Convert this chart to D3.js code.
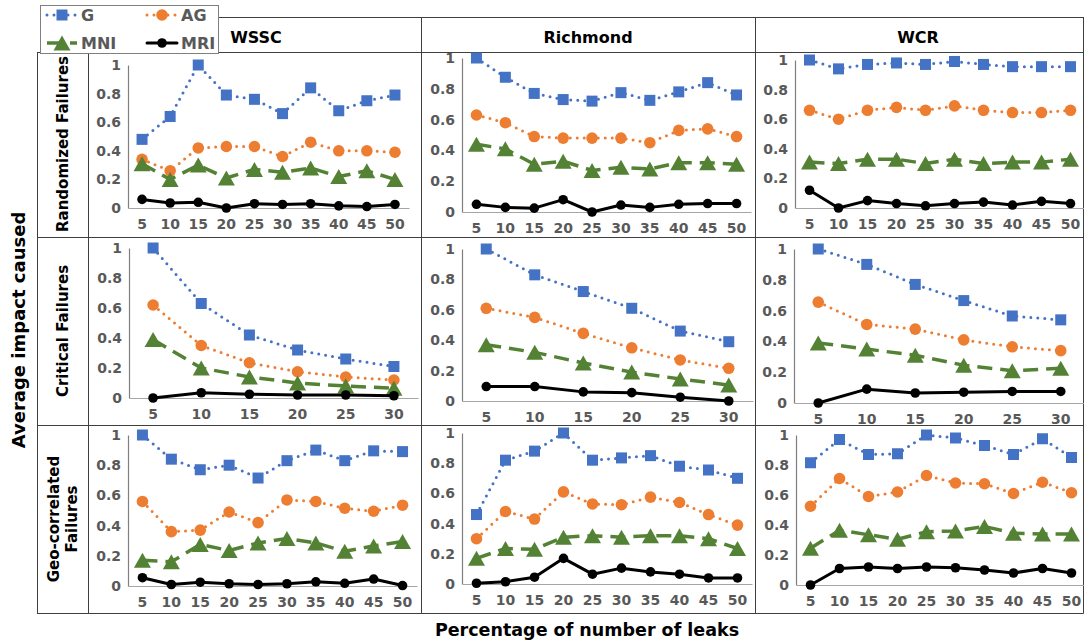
<!DOCTYPE html>
<html lang="en">
<head>
<meta charset="UTF-8">
<title>Average impact caused</title>
<script src="https://d3js.org/d3.v7.min.js"></script>
<style>
    body { margin: 0; background: #fff; }
    svg { display: block; font-family: "DejaVu Sans", sans-serif; }
</style>
</head>
<body>
<svg id="chart" width="1084" height="641"></svg>
<script>
    const networks = ["WSSC", "Richmond", "WCR"];
    const failureTypes = [["Randomized Failures"], ["Critical Failures"], ["Geo-correlated", "Failures"]];
    const leaks10 = [5, 10, 15, 20, 25, 30, 35, 40, 45, 50];
    const leaks6 = [5, 10, 15, 20, 25, 30];
    const yTicks = [0, 0.2, 0.4, 0.6, 0.8, 1];
    const seriesNames = ["G", "AG", "MNI", "MRI"];

    // randomized failures
    const wsscRandom = {
        G:   [0.48, 0.64, 1.0, 0.79, 0.76, 0.66, 0.84, 0.68, 0.75, 0.79],
        AG:  [0.34, 0.26, 0.42, 0.43, 0.43, 0.36, 0.46, 0.40, 0.40, 0.39],
        MNI: [0.31, 0.20, 0.30, 0.21, 0.27, 0.25, 0.28, 0.22, 0.26, 0.20],
        MRI: [0.06, 0.035, 0.04, 0.0, 0.03, 0.025, 0.03, 0.015, 0.01, 0.025]
    };
    const richRandom = {
        G:   [1.0, 0.875, 0.77, 0.73, 0.72, 0.775, 0.725, 0.78, 0.84, 0.76],
        AG:  [0.63, 0.58, 0.49, 0.48, 0.48, 0.48, 0.45, 0.53, 0.54, 0.49],
        MNI: [0.44, 0.41, 0.31, 0.33, 0.27, 0.29, 0.28, 0.32, 0.32, 0.31],
        MRI: [0.05, 0.03, 0.025, 0.08, 0.0, 0.045, 0.03, 0.05, 0.055, 0.055]
    };
    const wcrRandom = {
        G:   [1.0, 0.94, 0.97, 0.98, 0.97, 0.99, 0.97, 0.955, 0.955, 0.955],
        AG:  [0.66, 0.60, 0.66, 0.68, 0.66, 0.69, 0.66, 0.645, 0.645, 0.66],
        MNI: [0.31, 0.30, 0.33, 0.33, 0.30, 0.33, 0.30, 0.31, 0.31, 0.33],
        MRI: [0.12, 0.0, 0.05, 0.03, 0.015, 0.03, 0.04, 0.02, 0.045, 0.03]
    };

    // critical failures
    const wsscCritical = {
        G:   [1.0, 0.63, 0.42, 0.32, 0.26, 0.21],
        AG:  [0.62, 0.35, 0.235, 0.175, 0.14, 0.12],
        MNI: [0.39, 0.20, 0.14, 0.10, 0.08, 0.065],
        MRI: [0.0, 0.035, 0.025, 0.02, 0.02, 0.015]
    };
    const richCritical = {
        G:   [1.0, 0.83, 0.72, 0.61, 0.46, 0.39],
        AG:  [0.61, 0.55, 0.445, 0.35, 0.27, 0.215],
        MNI: [0.37, 0.32, 0.25, 0.19, 0.145, 0.105],
        MRI: [0.095, 0.095, 0.06, 0.055, 0.025, 0.0]
    };
    const wcrCritical = {
        G:   [1.0, 0.90, 0.77, 0.665, 0.565, 0.54],
        AG:  [0.655, 0.51, 0.48, 0.41, 0.365, 0.34],
        MNI: [0.39, 0.35, 0.31, 0.245, 0.21, 0.225],
        MRI: [0.0, 0.09, 0.065, 0.07, 0.075, 0.075]
    };

    // geo-correlated failures
    const wsscGeo = {
        G:   [1.0, 0.84, 0.77, 0.80, 0.715, 0.83, 0.90, 0.83, 0.895, 0.89],
        AG:  [0.56, 0.36, 0.37, 0.49, 0.42, 0.57, 0.56, 0.515, 0.495, 0.535],
        MNI: [0.17, 0.16, 0.275, 0.235, 0.285, 0.315, 0.285, 0.23, 0.265, 0.295],
        MRI: [0.055, 0.01, 0.025, 0.015, 0.01, 0.015, 0.028, 0.018, 0.046, 0.003]
    };
    const richGeo = {
        G:   [0.46, 0.82, 0.88, 1.0, 0.82, 0.835, 0.85, 0.78, 0.755, 0.70],
        AG:  [0.30, 0.48, 0.43, 0.61, 0.53, 0.525, 0.575, 0.54, 0.46, 0.39],
        MNI: [0.17, 0.235, 0.23, 0.31, 0.32, 0.31, 0.32, 0.32, 0.30, 0.235],
        MRI: [0.005, 0.015, 0.045, 0.17, 0.065, 0.105, 0.08, 0.065, 0.04, 0.04]
    };
    const wcrGeo = {
        G:   [0.815, 0.97, 0.87, 0.875, 1.0, 0.98, 0.93, 0.87, 0.975, 0.85],
        AG:  [0.525, 0.71, 0.59, 0.62, 0.73, 0.68, 0.675, 0.61, 0.685, 0.615],
        MNI: [0.245, 0.365, 0.335, 0.305, 0.355, 0.36, 0.39, 0.345, 0.34, 0.34],
        MRI: [0.0, 0.11, 0.12, 0.11, 0.12, 0.115, 0.10, 0.08, 0.11, 0.08]
    };

    const panelData = [
        [wsscRandom, richRandom, wcrRandom],
        [wsscCritical, richCritical, wcrCritical],
        [wsscGeo, richGeo, wcrGeo]
    ];
    const rowLeaks = [leaks10, leaks6, leaks10];

    // layout of each excel chart: [x0, x1] and [y(1), y(0)]
    const panelX = [
        [[128, 409], [462, 751], [795, 1085]],
        [[129, 418], [462, 753], [794, 1085]],
        [[128, 417], [462, 752], [796, 1086]]
    ];
    const panelY = [
        [[65, 208], [58, 212], [60, 208]],
        [[248, 398], [249, 401], [249, 403]],
        [[435, 586], [433, 584], [435, 585]]
    ];

    const style = {
        G:   {color: "#4472C4", dash: "0,7", width: 3, cap: "round"},
        AG:  {color: "#ED7D31", dash: "0,7", width: 3, cap: "round"},
        MNI: {color: "#548235", dash: "15,8", width: 3.5, cap: "butt"},
        MRI: {color: "#000000", dash: null, width: 3, cap: "round"}
    };

    const svg = d3.select("#chart");
    const tickColor = "#595959";
    const gridColor = "#3f3f3f";

    // table frame
    const frame = svg.append("g").attr("stroke", gridColor).attr("stroke-width", 1).attr("fill", "none");
    const hLines = [[88, 17], [37, 52], [37, 237], [37, 425], [37, 613]];
    hLines.forEach(([x, y]) => frame.append("line").attr("x1", x).attr("x2", 1083.5).attr("y1", y + 0.5).attr("y2", y + 0.5));
    const vLines = [[37.5, 52], [88.5, 17], [421.5, 17], [755.5, 17], [1083.5, 17]];
    vLines.forEach(([x, y]) => frame.append("line").attr("x1", x).attr("x2", x).attr("y1", y).attr("y2", 613.5));

    // column headers
    const headerX = [256, 588, 918];
    networks.forEach((n, i) => {
        svg.append("text").attr("x", headerX[i]).attr("y", 37)
            .attr("text-anchor", "middle").attr("dominant-baseline", "central")
            .attr("font-size", 16).attr("font-weight", "bold").text(n);
    });

    // row labels
    const rowMid = [144, 331, 519];
    failureTypes.forEach((lines, i) => {
        const t = svg.append("text")
            .attr("transform", `translate(${lines.length > 1 ? 54 : 63},${rowMid[i]}) rotate(-90)`)
            .attr("text-anchor", "middle").attr("dominant-baseline", "central")
            .attr("font-size", 15).attr("font-weight", "bold");
        lines.forEach((l, k) => t.append("tspan").attr("x", 0).attr("dy", k === 0 ? 0 : 18).text(l));
    });

    // axis titles
    svg.append("text").attr("transform", "translate(18,330) rotate(-90)")
        .attr("text-anchor", "middle").attr("dominant-baseline", "central")
        .attr("font-size", 18).attr("font-weight", "bold").text("Average impact caused");
    svg.append("text").attr("x", 587).attr("y", 630)
        .attr("text-anchor", "middle").attr("dominant-baseline", "central")
        .attr("font-size", 17.5).attr("font-weight", "bold").text("Percentage of number of leaks");

    function marker(sel, name) {
        if (name === "G") {
            sel.append("rect").attr("x", -5.5).attr("y", -5.5).attr("width", 11).attr("height", 11)
                .attr("fill", style.G.color);
        } else if (name === "MNI") {
            sel.append("path").attr("d", "M0,-7.5L8.5,7.5L-8.5,7.5Z").attr("fill", style.MNI.color);
        } else {
            sel.append("circle").attr("r", name === "AG" ? 5.8 : 4.8).attr("fill", style[name].color);
        }
    }

    // panels
    panelData.forEach((row, r) => {
        row.forEach((d, c) => {
            const [x0, x1] = panelX[r][c];
            const [yTop, yBot] = panelY[r][c];
            const x = d3.scaleBand().domain(rowLeaks[r]).range([x0, x1]);
            const y = d3.scaleLinear().domain([0, 1]).range([yBot, yTop]);
            const g = svg.append("g");

            g.append("g").attr("transform", `translate(${x0},0)`)
                .call(d3.axisLeft(y).tickValues(yTicks).tickSize(0).tickPadding(7)
                    .tickFormat(v => String(+v.toFixed(1))))
                .call(a => a.select(".domain").attr("stroke", "#7f7f7f").attr("stroke-width", 1.2))
                .call(a => a.selectAll("text").attr("font-size", 14).attr("font-weight", "bold")
                    .attr("fill", tickColor).attr("font-family", "DejaVu Sans"));

            g.append("g").attr("transform", `translate(0,${yBot})`)
                .call(d3.axisBottom(x).tickSize(0).tickPadding(11))
                .call(a => a.select(".domain").attr("stroke", "#a6a6a6").attr("stroke-width", 1.2))
                .call(a => a.selectAll("text").attr("font-size", 14).attr("font-weight", "bold")
                    .attr("fill", tickColor).attr("font-family", "DejaVu Sans"));

            const line = d3.line()
                .x((v, i) => x(rowLeaks[r][i]) + x.bandwidth() / 2)
                .y(v => y(v));

            seriesNames.forEach(name => {
                const s = style[name];
                g.append("path").datum(d[name])
                    .attr("d", line)
                    .attr("fill", "none")
                    .attr("stroke", s.color)
                    .attr("stroke-width", s.width)
                    .attr("stroke-linecap", s.cap)
                    .attr("stroke-linejoin", "round")
                    .attr("stroke-dasharray", s.dash);
                g.append("g").selectAll("g")
                    .data(d[name])
                    .join("g")
                    .attr("transform", (v, i) => `translate(${x(rowLeaks[r][i]) + x.bandwidth() / 2},${y(v)})`)
                    .each(function () { marker(d3.select(this), name); });
            });
        });
    });

    // legend
    const legend = svg.append("g");
    legend.append("rect").attr("x", 40.5).attr("y", 5.5).attr("width", 178).attr("height", 48)
        .attr("fill", "#fff").attr("stroke", "#7f7f7f");
    const legendPos = {G: [45, 15], AG: [145, 15], MNI: [45, 43], MRI: [145, 43]};
    seriesNames.forEach(name => {
        const [lx, ly] = legendPos[name];
        const s = style[name];
        legend.append("line").attr("x1", lx + 2).attr("x2", lx + 32).attr("y1", ly).attr("y2", ly)
            .attr("stroke", s.color).attr("stroke-width", s.width)
            .attr("stroke-linecap", s.cap).attr("stroke-dasharray", s.dash);
        marker(legend.append("g").attr("transform", `translate(${lx + 17},${ly})`), name);
        legend.append("text").attr("x", lx + 36).attr("y", ly)
            .attr("dominant-baseline", "central")
            .attr("font-size", 16).attr("font-weight", "bold").attr("fill", tickColor)
            .text(name);
    });
</script>
</body>
</html>
